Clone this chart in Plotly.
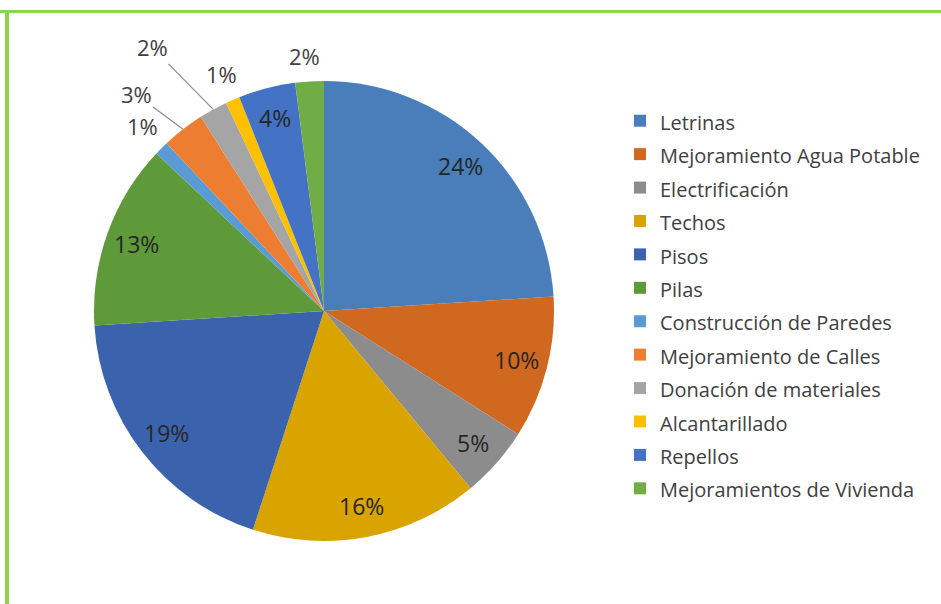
import math
import plotly.graph_objects as go

labels = ["Letrinas", "Mejoramiento Agua Potable", "Electrificación", "Techos", "Pisos",
          "Pilas", "Construcción de Paredes", "Mejoramiento de Calles",
          "Donación de materiales", "Alcantarillado", "Repellos", "Mejoramientos de Vivienda"]
values = [24, 10, 5, 16, 19, 13, 1, 3, 2, 1, 4, 2]
colors = ["#4A7EBB", "#D0681F", "#8C8C8C", "#D9A300", "#3B63AD", "#5E9A3A",
          "#5B9BD5", "#ED7D31", "#A5A5A5", "#FFC000", "#4472C4", "#70AD47"]

W, H = 941, 604
cx, cy, r = 324, 311, 230
FONT = "Open Sans"

# outside label offsets (dx, dy, leader line) for the thin slices
outside = {6: (-19, -22, False), 7: (-47, -35, True), 8: (-61, -62, True),
           9: (-11, -26, False), 11: (-5, -25, False)}

fig = go.Figure(go.Pie(
    labels=[f'<span style="font-size:20px">{l}</span>' for l in labels],
    values=values, sort=False, direction="clockwise", rotation=0,
    marker=dict(colors=colors, line=dict(width=0)),
    textinfo="none",
    domain=dict(x=[(cx - r) / W, (cx + r) / W], y=[1 - (cy + r) / H, 1 - (cy - r) / H]),
    hoverinfo="label+percent",
))

total = sum(values)
annotations = []
cum = 0
for i, v in enumerate(values):
    mid = (cum + v / 2) / total * 2 * math.pi
    cum += v
    txt = f"{v}%"
    if i in outside:
        dx, dy, leader = outside[i]
        ex = cx + r * math.sin(mid)
        ey = cy - r * math.cos(mid)
        if leader:
            annotations.append(dict(x=ex / W, y=1 - ey / H, xref="paper", yref="paper",
                                    text=txt, showarrow=True, arrowhead=0, arrowwidth=1.2,
                                    arrowcolor="#8C8C8C", ax=dx, ay=dy, standoff=0,
                                    xanchor="center", yanchor="middle",
                                    font=dict(family=FONT, size=22, color="#404040")))
        else:
            annotations.append(dict(x=(ex + dx) / W, y=1 - (ey + dy) / H, xref="paper",
                                    yref="paper", text=txt, showarrow=False,
                                    xanchor="center", yanchor="middle",
                                    font=dict(family=FONT, size=22, color="#404040")))
    else:
        rl = r - 31
        annotations.append(dict(x=(cx + rl * math.sin(mid)) / W, y=1 - (cy - rl * math.cos(mid)) / H,
                                xref="paper", yref="paper", text=txt, showarrow=False,
                                xanchor="center", yanchor="middle",
                                font=dict(family=FONT, size=23, color="#262626")))

fig.update_layout(
    width=W, height=H, margin=dict(l=0, r=0, t=0, b=0),
    paper_bgcolor="white", plot_bgcolor="white",
    legend=dict(x=620 / W, y=1 - 99 / H, xanchor="left", yanchor="top",
                font=dict(family=FONT, size=23.4, color="#404040"),
                itemwidth=30),
    annotations=annotations,
    shapes=[
        dict(type="rect", xref="paper", yref="paper", x0=0, x1=1,
             y0=1 - 13 / H, y1=1 - 10 / H, fillcolor="#92D050", line=dict(width=0)),
        dict(type="rect", xref="paper", yref="paper", x0=5 / W, x1=9 / W,
             y0=0, y1=1 - 10 / H, fillcolor="#92D050", line=dict(width=0)),
    ],
)
fig.write_html("out.html")
